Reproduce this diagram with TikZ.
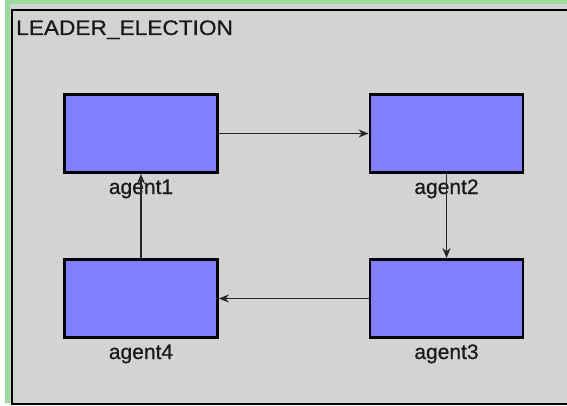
\documentclass[tikz,border=0pt]{standalone}
\usepackage{fontspec}
\setmainfont{Liberation Sans}
\newfontfamily\lblfont[FakeBold=0.6]{Liberation Sans}
\newfontfamily\titlefont[FakeBold=0.6,FakeStretch=1.08]{Liberation Sans}
\usetikzlibrary{arrows.meta}
\definecolor{bggray}{HTML}{D3D3D3}
\definecolor{agentblue}{HTML}{8080FF}
\definecolor{framegreen}{HTML}{99DD99}
\tikzset{
  agentbox/.style={draw=black, line width=2.8pt, fill=agentblue, minimum width=153pt, minimum height=78pt, inner sep=0pt},
  agentlabel/.style={font=\lblfont\fontsize{21}{24}\selectfont, text=black!90, inner sep=0pt, anchor=base},
  flow/.style={draw=black!85, line width=1.5pt, -{Stealth[length=10pt,width=8pt]}}
}
\begin{document}
\begin{tikzpicture}[x=1pt,y=-1pt]
\useasboundingbox (0,0) rectangle (567,406);
\fill[white] (0,0) rectangle (567,406);
\fill[framegreen] (5,0) rectangle (567,4);
\fill[framegreen] (5,0) rectangle (10,403);
\fill[bggray] (10,4) rectangle (567,404);
\draw[black, line width=2.8pt] (567,10) -- (12,10) -- (12,404) -- (567,404);
\node[font=\titlefont\fontsize{21}{24}\selectfont, text=black!90, anchor=base west, inner sep=0pt] (title) at (16,35) {LEADER\_ELECTION};
\node[agentbox] (a1) at (141,133.5) {};
\node[agentbox] (a2) at (446.5,133.5) {};
\node[agentbox] (a3) at (446.5,298.5) {};
\node[agentbox] (a4) at (141,298.5) {};
\node[agentlabel] (l1) at (141,194) {agent1};
\node[agentlabel] (l2) at (446.5,194) {agent2};
\node[agentlabel] (l3) at (446.5,359) {agent3};
\node[agentlabel] (l4) at (141,359) {agent4};
\draw[flow] (a1.east) -- (a2.west);
\draw[flow] (a2.south) -- (a3.north);
\draw[flow] (a3.west) -- (a4.east);
\draw[flow] (a4.north) -- (a1.south);
\end{tikzpicture}
\end{document}
